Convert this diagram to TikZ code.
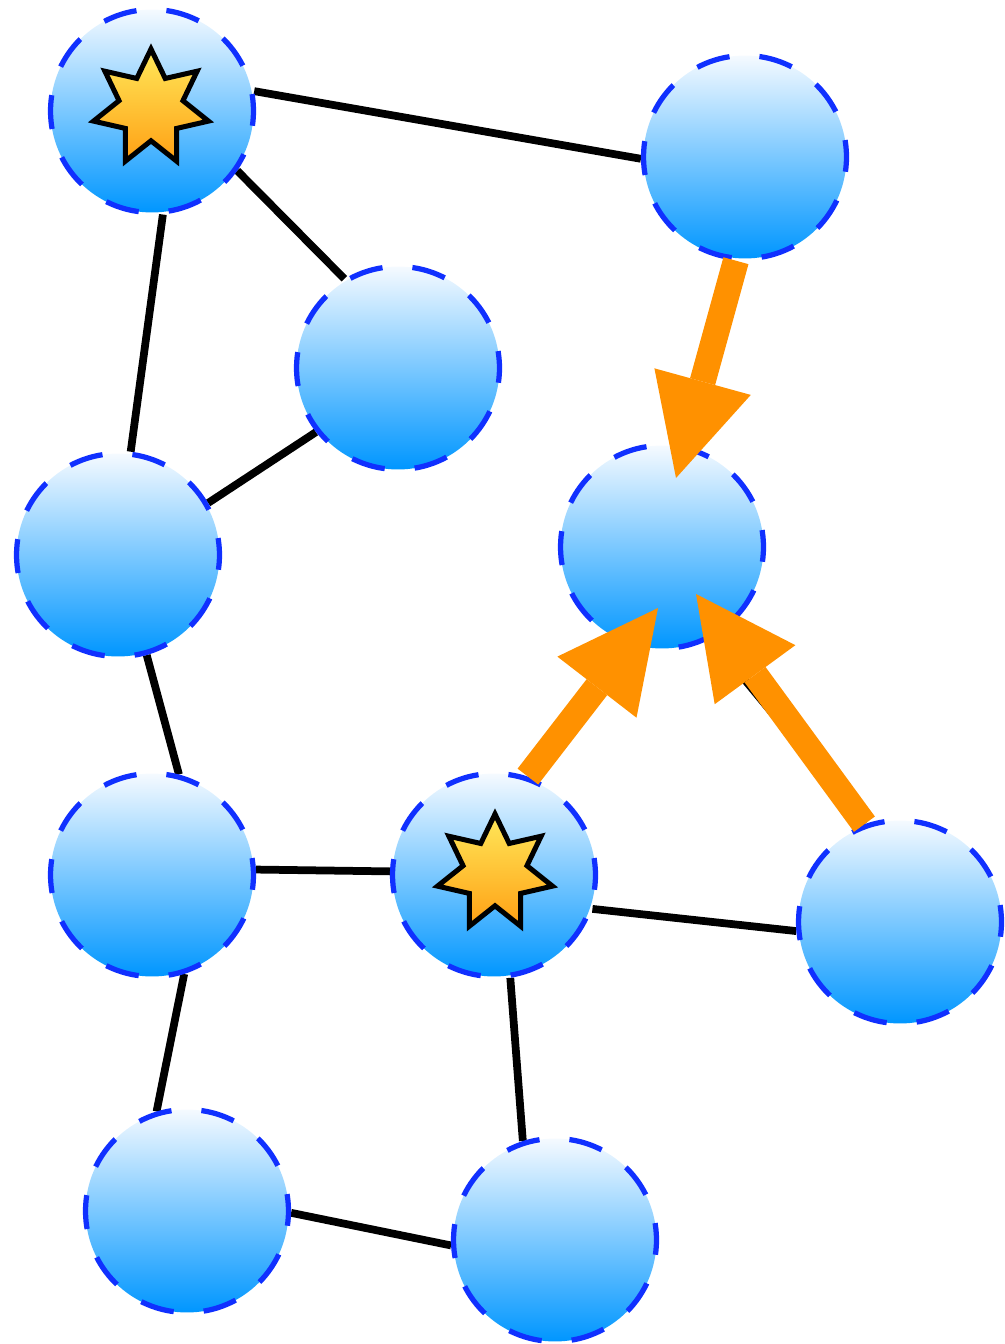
\documentclass[tikz,border=0pt]{standalone}
\usetikzlibrary{shapes.geometric,arrows.meta,backgrounds}
\definecolor{ringblue}{RGB}{16,48,255}
\definecolor{balltop}{RGB}{245,250,255}
\definecolor{ballbottom}{RGB}{0,150,255}
\definecolor{startop}{RGB}{255,232,90}
\definecolor{starbottom}{RGB}{255,160,20}
\definecolor{flow}{RGB}{255,145,0}
\tikzset{
  ball/.style={circle, minimum size=4.06cm, inner sep=0pt, draw=ringblue,
    line width=0.105cm, dash pattern=on 0.68cm off 0.6cm, dash phase=0.34cm,
    top color=balltop, bottom color=ballbottom},
  badge/.style={star, star points=7, star point ratio=1.8, minimum size=2.36cm,
    inner sep=0pt, draw=black, line width=0.1cm,
    top color=startop, bottom color=starbottom},
  link/.style={line width=0.155cm, draw=black},
  flowarrow/.style={draw=flow, line width=0.52cm,
    -{Triangle[length=2cm,width=2cm,line width=0pt]}}
}
\begin{document}
\begin{tikzpicture}[x=0.02cm,y=-0.02cm]
\useasboundingbox (0,0) rectangle (1004,1344);

% vertices
\node[ball] (A) at (152,111) {};
\node[ball] (B) at (745,157) {};
\node[ball] (C) at (398,368) {};
\node[ball] (D) at (118,555) {};
\node[ball] (E) at (662,547) {};
\node[ball] (F) at (152,875) {};
\node[ball] (G) at (494,875) {};
\node[ball] (H) at (900,922) {};
\node[ball] (I) at (187,1211) {};
\node[ball] (J) at (555,1240) {};

% marked vertices
\node[badge] (sA) at (151,108) {};
\node[badge] (sG) at (495,873) {};

% edges, behind the vertices
\begin{scope}[on background layer]
\draw[link] (A.11.2) -- (B.181.7);
\draw[link] (A.-35.7) -- (C.121);
\draw[link] (A.-84.4) -- (D.83.4);
\draw[link] (C.218.7) -- (D.30.3);
\draw[link] (D.-74.4) -- (F.75.4);
\draw[link] (F.3.9) -- (G.178.9);
\draw[link] (G.-19) -- (H.185.6);
\draw[link] (G.-81) -- (J.108.8);
\draw[link] (F.-72) -- (I.107.7);
\draw[link] (I.-1.7) -- (J.183.9);
\draw[link] (E.-62) -- (H.110);
\end{scope}

% flows into E
\coordinate (tipB) at (676,478);
\coordinate (tipG) at (658,608);
\coordinate (tipH) at (696,594);
\draw[flowarrow] (B.-95.7) -- (tipB);
\draw[flowarrow] (G.71.9) -- (tipG);
\draw[flowarrow] (H.110.8) -- (tipH);
\end{tikzpicture}
\end{document}
